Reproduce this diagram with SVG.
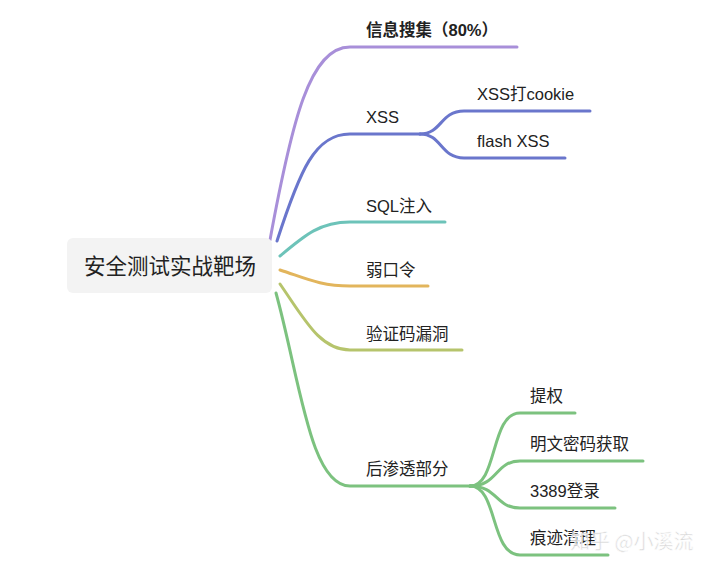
<svg xmlns="http://www.w3.org/2000/svg" width="720" height="570" viewBox="0 0 720 570">
<style>
.l{fill:none;stroke-width:3;stroke-linecap:round}
.t{font-family:"Liberation Sans","Noto Sans CJK SC",sans-serif;font-size:16.5px;fill:#222}
</style>
<rect width="720" height="570" fill="#ffffff"/>
<g id="connectors">
<path class="l" stroke="#a88fd9" d="M270,240 C292,120 310,47 350,47 L517,47"/>
<path class="l" stroke="#6a76cc" d="M277,241 C300,170 315,134 350,134 L420,134"/>
<path class="l" stroke="#6a76cc" d="M420,134 C442,134 440,111 464,111 L590,111"/>
<path class="l" stroke="#6a76cc" d="M420,134 C442,134 440,158 464,158 L565,158"/>
<path class="l" stroke="#6dc3b9" d="M280,256 C305,235 320,222 350,222 L445,222"/>
<path class="l" stroke="#e2b55c" d="M280,270 C305,278 320,286 350,286 L428,286"/>
<path class="l" stroke="#b6c46c" d="M280,284 C305,320 320,350 350,350 L462,350"/>
<path class="l" stroke="#7cc27f" d="M276,293 C300,380 310,486 350,486 L470,486"/>
<path class="l" stroke="#7cc27f" d="M470,486 C498,486 490,413 520,413 L575,413"/>
<path class="l" stroke="#7cc27f" d="M470,486 C498,486 495,461 520,461 L643,461"/>
<path class="l" stroke="#7cc27f" d="M470,486 C498,486 495,508 520,508 L615,508"/>
<path class="l" stroke="#7cc27f" d="M470,486 C498,486 490,555 520,555 L608,555"/>
</g>
<g id="root">
<rect x="67" y="238" width="205" height="55" rx="6" fill="#f3f3f3"/>
<text x="170" y="274" text-anchor="middle" font-family="'Noto Sans CJK SC','Noto Sans',sans-serif" font-size="21.5" fill="#222">安全测试实战靶场</text>
</g>
<g id="n-info"><text class="t" x="366" y="36" font-weight="bold">信息搜集（80%）</text></g>
<g id="n-xss"><text class="t" x="366" y="123">XSS</text></g>
<g id="n-xss-cookie"><text class="t" x="477" y="100">XSS打cookie</text></g>
<g id="n-xss-flash"><text class="t" x="477" y="147">flash XSS</text></g>
<g id="n-sql"><text class="t" x="366" y="212">SQL注入</text></g>
<g id="n-weak"><text class="t" x="366" y="276">弱口令</text></g>
<g id="n-captcha"><text class="t" x="366" y="340">验证码漏洞</text></g>
<g id="n-post"><text class="t" x="366" y="475">后渗透部分</text></g>
<g id="n-priv"><text class="t" x="530" y="402">提权</text></g>
<g id="n-pass"><text class="t" x="530" y="450">明文密码获取</text></g>
<g id="n-3389"><text class="t" x="530" y="497">3389登录</text></g>
<g id="n-clean"><text class="t" x="530" y="544">痕迹清理</text></g>
<text x="570" y="549" font-family="'Noto Sans CJK SC',sans-serif" font-size="20" fill="#d2d2d2" stroke="#ffffff" stroke-width="0.6" opacity="0.9">知乎 @小溪流</text>
</svg>
